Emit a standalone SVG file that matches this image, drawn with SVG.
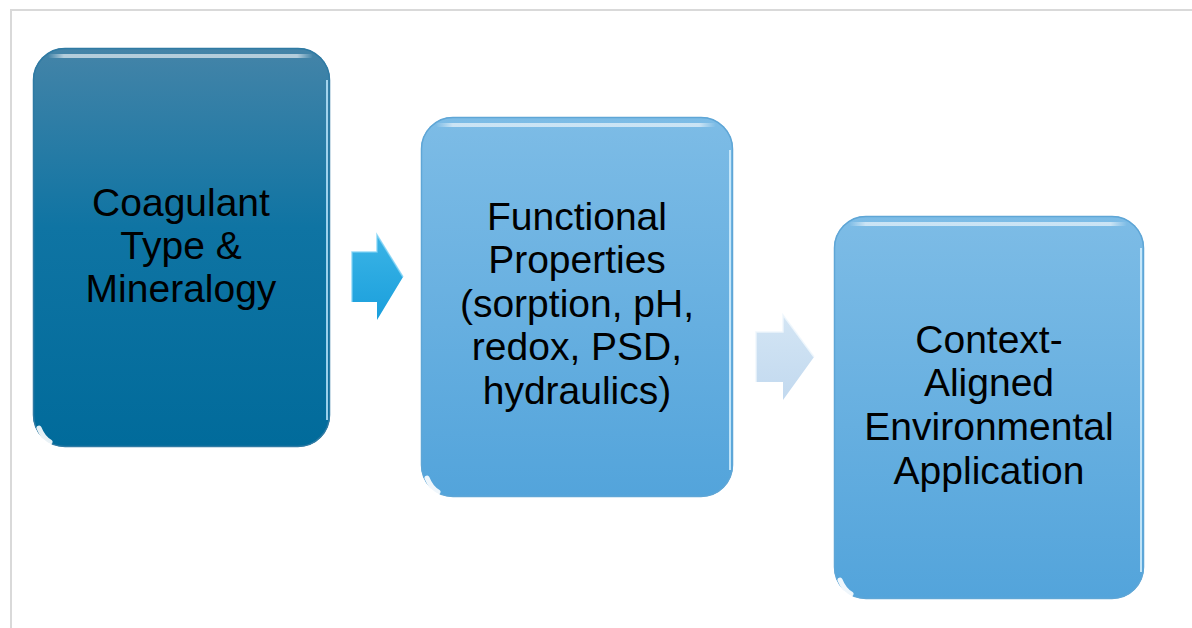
<svg xmlns="http://www.w3.org/2000/svg" width="1192" height="628" viewBox="0 0 1192 628">
<defs>
<linearGradient id="g1" x1="0" y1="0" x2="0" y2="1">
<stop offset="0" stop-color="#4484a8"/>
<stop offset="0.45" stop-color="#0f74a3"/>
<stop offset="1" stop-color="#016b9b"/>
</linearGradient>
<linearGradient id="g2" x1="0" y1="0" x2="0" y2="1">
<stop offset="0" stop-color="#7dbce6"/>
<stop offset="1" stop-color="#53a4db"/>
</linearGradient>
<linearGradient id="hl" x1="0" y1="0" x2="1" y2="0">
<stop offset="0" stop-color="#ffffff" stop-opacity="0"/>
<stop offset="0.06" stop-color="#ffffff" stop-opacity="0.6"/>
<stop offset="0.94" stop-color="#ffffff" stop-opacity="0.6"/>
<stop offset="1" stop-color="#ffffff" stop-opacity="0"/>
</linearGradient>
<linearGradient id="ga1" x1="0" y1="0" x2="0" y2="1">
<stop offset="0" stop-color="#3bb4e6"/>
<stop offset="1" stop-color="#1a9fdc"/>
</linearGradient>
<linearGradient id="ga2" x1="0" y1="0" x2="0" y2="1">
<stop offset="0" stop-color="#d3e5f4"/>
<stop offset="1" stop-color="#c2d9ef"/>
</linearGradient>
</defs>
<style>
.lbl{font-family:"Liberation Sans",Arial,sans-serif;font-size:39px;fill:#000;text-anchor:middle}
.edge1{fill:none;stroke:#2f7aa3;stroke-width:1.5}
.edge2{fill:none;stroke:#5fa6d6;stroke-width:1.5}
.top{fill:url(#hl)}
.glare{fill:none;stroke:#ffffff;stroke-opacity:0.9;stroke-width:5;stroke-linecap:round}
</style>
<rect x="11" y="10" width="1200" height="640" fill="#ffffff" stroke="#d9d9d9" stroke-width="2"/>

<g id="node-coagulant">
<rect x="33" y="48" width="297" height="399" rx="32" fill="url(#g1)"/>
<rect x="33.5" y="48.5" width="296" height="398" rx="31.5" class="edge1"/>
<rect x="48" y="54" width="265" height="4" rx="2" class="top"/>
<path d="M39 428 Q43 438 50 442" class="glare"/>
<line x1="327" y1="80" x2="327" y2="420" stroke="#bfe8ff" stroke-width="2" stroke-opacity="0.8"/>
<text class="lbl" x="181" y="216">Coagulant</text>
<text class="lbl" x="181" y="259">Type &amp;</text>
<text class="lbl" x="181" y="302">Mineralogy</text>
</g>

<g id="node-functional">
<rect x="421" y="117" width="312" height="380" rx="32" fill="url(#g2)"/>
<rect x="421.5" y="117.5" width="311" height="379" rx="31.5" class="edge2"/>
<rect x="436" y="123" width="280" height="4" rx="2" class="top"/>
<path d="M427 478 Q431 488 438 492" class="glare"/>
<line x1="730" y1="150" x2="730" y2="470" stroke="#d8f2ff" stroke-width="2" stroke-opacity="0.8"/>
<text class="lbl" x="577" y="230">Functional</text>
<text class="lbl" x="577" y="273">Properties</text>
<text class="lbl" x="577" y="317">(sorption, pH,</text>
<text class="lbl" x="577" y="360">redox, PSD,</text>
<text class="lbl" x="577" y="404">hydraulics)</text>
</g>

<g id="node-application">
<rect x="834" y="216" width="310" height="383" rx="32" fill="url(#g2)"/>
<rect x="834.5" y="216.5" width="309" height="382" rx="31.5" class="edge2"/>
<rect x="849" y="222" width="278" height="4" rx="2" class="top"/>
<path d="M840 580 Q844 590 851 594" class="glare"/>
<line x1="1141" y1="248" x2="1141" y2="572" stroke="#d8f2ff" stroke-width="2" stroke-opacity="0.8"/>
<text class="lbl" x="989" y="353">Context-</text>
<text class="lbl" x="989" y="396">Aligned</text>
<text class="lbl" x="989" y="440">Environmental</text>
<text class="lbl" x="989" y="484">Application</text>
</g>

<g id="connectors">
<polygon points="352,252 377,252 377,235 403,277 377,320 377,302 352,302" fill="url(#ga1)"/>
<polyline points="352,302 352,252 377,252 377,235 403,277" fill="none" stroke="#7fd2f5" stroke-width="1.5" stroke-opacity="0.8"/>
<polygon points="756,332 783,332 783,315 814,357 783,400 783,382 756,382" fill="url(#ga2)"/>
<polyline points="756,382 756,332 783,332 783,315 814,357" fill="none" stroke="#eef6fc" stroke-width="1.5" stroke-opacity="0.9"/>
</g>
</svg>
